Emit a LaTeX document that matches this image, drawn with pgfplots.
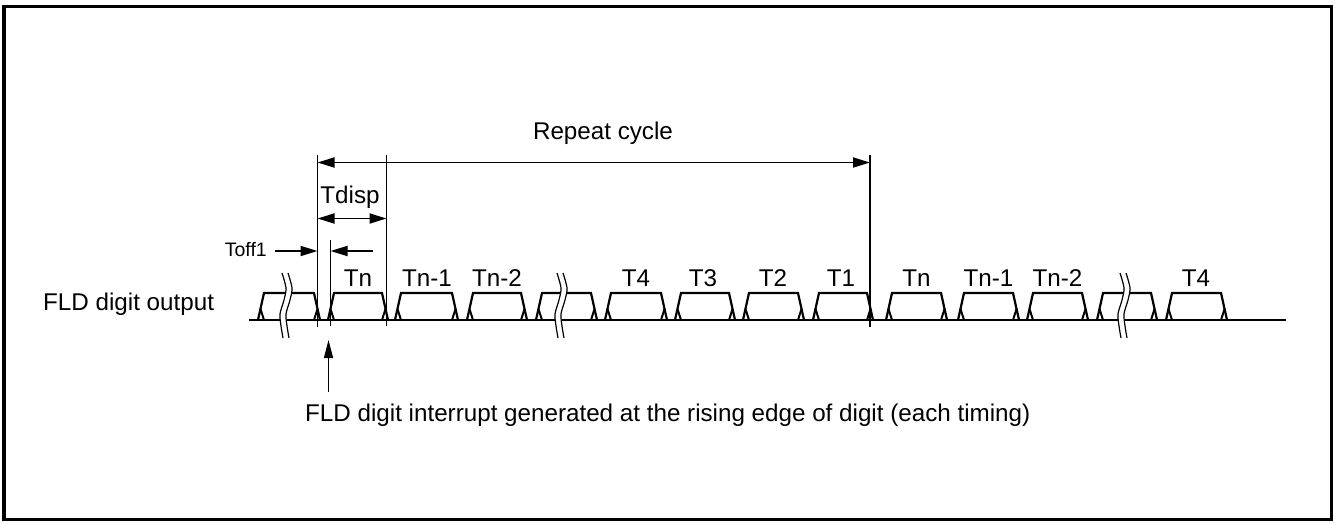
\documentclass[border=0pt]{standalone}
\usepackage{pgfplots}
\pgfplotsset{compat=1.18}
\usepackage{fontspec}
\setmainfont{Liberation Sans}
\usetikzlibrary{arrows.meta}
\begin{document}
\begin{tikzpicture}[>={Triangle[length=17pt,width=10pt]}]
\tikzset{
  lab/.style={font=\fontsize{24.2}{28}\selectfont, inner sep=0pt},
}
\begin{axis}[x=1pt,y=1pt,xmin=0,xmax=1335,ymin=0,ymax=522,y dir=reverse,
  hide axis,clip=false,scale only axis,unbounded coords=jump]
\path (axis cs:0,0) rectangle (axis cs:1335,522);
% frame
\draw[line width=3pt] (axis cs:4,6.5) rectangle (axis cs:1331.5,519.5);
% baseline
\addplot[black,line width=2.8pt] coordinates {(249,320) (1286,320)};
% pulses
\addplot[black,line width=2.2pt,line join=miter] coordinates {
(258,320)(264,293)(314,293)(320,320)(nan,nan)
(328,320)(334,293)(382,293)(388,320)(nan,nan)
(395,320)(401,293)(452,293)(458,320)(nan,nan)
(467,320)(473,293)(521,293)(527,320)(nan,nan)
(536,320)(542,293)(591,293)(597,320)(nan,nan)
(605,320)(611,293)(661,293)(667,320)(nan,nan)
(675,320)(681,293)(729,293)(735,320)(nan,nan)
(743,320)(749,293)(798,293)(804,320)(nan,nan)
(813,320)(819,293)(867,293)(873,320)(nan,nan)
(886,320)(892,293)(941,293)(947,320)(nan,nan)
(958,320)(964,293)(1013,293)(1019,320)(nan,nan)
(1027,320)(1033,293)(1082,293)(1088,320)(nan,nan)
(1097,320)(1103,293)(1151,293)(1157,320)(nan,nan)
(1166,320)(1172,293)(1221,293)(1227,320)
};
% edge legs
\addplot[black,line width=2pt] coordinates {
(260.5,309)(264,320)(nan,nan)(317.5,309)(314,320)(nan,nan)
(330.5,309)(334,320)(nan,nan)(385.5,309)(382,320)(nan,nan)
(397.5,309)(401,320)(nan,nan)(455.5,309)(452,320)(nan,nan)
(469.5,309)(473,320)(nan,nan)(524.5,309)(521,320)(nan,nan)
(538.5,309)(542,320)(nan,nan)(594.5,309)(591,320)(nan,nan)
(607.5,309)(611,320)(nan,nan)(664.5,309)(661,320)(nan,nan)
(677.5,309)(681,320)(nan,nan)(732.5,309)(729,320)(nan,nan)
(745.5,309)(749,320)(nan,nan)(801.5,309)(798,320)(nan,nan)
(815.5,309)(819,320)(nan,nan)(870.5,309)(867,320)(nan,nan)
(888.5,309)(892,320)(nan,nan)(944.5,309)(941,320)(nan,nan)
(960.5,309)(964,320)(nan,nan)(1016.5,309)(1013,320)(nan,nan)
(1029.5,309)(1033,320)(nan,nan)(1085.5,309)(1082,320)(nan,nan)
(1099.5,309)(1103,320)(nan,nan)(1154.5,309)(1151,320)(nan,nan)
(1168.5,309)(1172,320)(nan,nan)(1224.5,309)(1221,320)
};
% breaks: white fill
\addplot[fill=white,draw=none] coordinates {(282,273)(286,288)(284,300)(280,314)(281,326)(283,338)(289,338)(287,326)(286,314)(290,300)(292,288)(288,273)} -- cycle;
\addplot[fill=white,draw=none] coordinates {(557,273)(561,288)(559,300)(555,314)(556,326)(558,338)(564,338)(562,326)(561,314)(565,300)(567,288)(563,273)} -- cycle;
\addplot[fill=white,draw=none] coordinates {(1120,273)(1124,288)(1122,300)(1118,314)(1119,326)(1121,338)(1127,338)(1125,326)(1124,314)(1128,300)(1130,288)(1126,273)} -- cycle;
% break curves
\addplot[black,line width=1.2pt,smooth] coordinates {(282,273)(286,288)(284,300)(280,314)(281,326)(283,338)};
\addplot[black,line width=1.2pt,smooth] coordinates {(288,273)(292,288)(290,300)(286,314)(287,326)(289,338)};
\addplot[black,line width=1.2pt,smooth] coordinates {(557,273)(561,288)(559,300)(555,314)(556,326)(558,338)};
\addplot[black,line width=1.2pt,smooth] coordinates {(563,273)(567,288)(565,300)(561,314)(562,326)(564,338)};
\addplot[black,line width=1.2pt,smooth] coordinates {(1120,273)(1124,288)(1122,300)(1118,314)(1119,326)(1121,338)};
\addplot[black,line width=1.2pt,smooth] coordinates {(1126,273)(1130,288)(1128,300)(1124,314)(1125,326)(1127,338)};
% dimension verticals
\addplot[black,line width=1.3pt] coordinates {(317.5,155)(317.5,327)(nan,nan)(330.5,240)(330.5,326)(nan,nan)(386.5,155)(386.5,326)(nan,nan)(870,155)(870,327)};
% dimension arrows
\draw[line width=1.8pt,<->] (axis cs:317.5,162.5) -- (axis cs:870,162.5);
\draw[line width=1.8pt,<->] (axis cs:317.5,218.5) -- (axis cs:386.5,218.5);
\draw[line width=1.8pt,->] (axis cs:275,251) -- (axis cs:317.5,251);
\draw[line width=1.8pt,->] (axis cs:373,251) -- (axis cs:330.5,251);
\draw[line width=1.5pt,-{Triangle[length=18pt,width=9pt]}] (axis cs:328.5,392) -- (axis cs:328.5,340);
% texts
\node[lab,anchor=base] at (axis cs:603,139) {Repeat cycle};
\node[lab,anchor=base] at (axis cs:350,203.5) {Tdisp};
\node[inner sep=0pt,font=\fontsize{19.5}{22}\selectfont,anchor=base east] at (axis cs:267,256) {Toff1};
\node[lab,anchor=base west] at (axis cs:43,310) {FLD digit output};
\node[lab,anchor=base west] at (axis cs:305,421) {FLD digit interrupt generated at the rising edge of digit (each timing)};
\node[lab,anchor=base] at (axis cs:358,286) {Tn};
\node[lab,anchor=base] at (axis cs:427,286) {Tn-1};
\node[lab,anchor=base] at (axis cs:497,286) {Tn-2};
\node[lab,anchor=base] at (axis cs:636,286) {T4};
\node[lab,anchor=base] at (axis cs:703,286) {T3};
\node[lab,anchor=base] at (axis cs:773,286) {T2};
\node[lab,anchor=base] at (axis cs:841,286) {T1};
\node[lab,anchor=base] at (axis cs:916.5,286) {Tn};
\node[lab,anchor=base] at (axis cs:988.5,286) {Tn-1};
\node[lab,anchor=base] at (axis cs:1057.5,286) {Tn-2};
\node[lab,anchor=base] at (axis cs:1196,286) {T4};
\end{axis}
\end{tikzpicture}
\end{document}
